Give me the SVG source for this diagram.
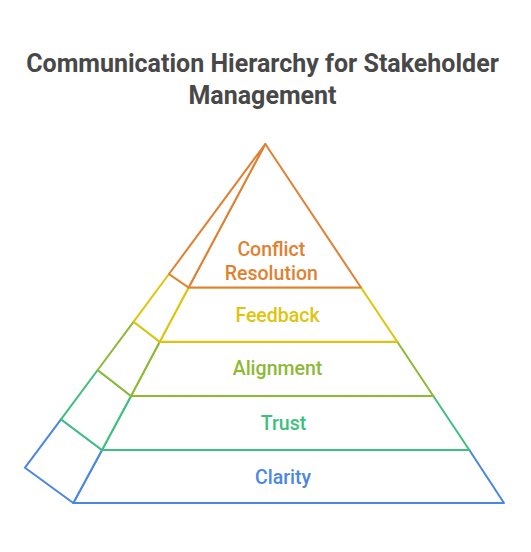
<svg xmlns="http://www.w3.org/2000/svg" width="531" height="552" viewBox="0 0 531 552">
<style>
.face{fill:#ffffff;stroke-width:2;stroke-linejoin:round}
.lbl{font-family:Roboto,"Liberation Sans",sans-serif;font-size:19.5px;font-weight:500;text-anchor:middle}
.title{font-family:Roboto,"Liberation Sans",sans-serif;font-size:25px;font-weight:bold;fill:#484848;text-anchor:middle}
</style>
<rect width="531" height="552" fill="#ffffff"/>
<g id="title">
<text class="title" x="262.5" y="72">Communication Hierarchy for Stakeholder</text>
<text class="title" x="262.5" y="103.5">Management</text>
</g>
<g id="clarity">
<polygon class="face" stroke="#4A86E4" points="102,450 469.3,450 504,503 73.3,503"/>
<polygon class="face" stroke="#4A86E4" points="61,419.3 102,450 73.3,503 25,467.7"/>
<text class="lbl" fill="#4A86E4" x="283" y="483.5">Clarity</text>
</g>
<g id="trust">
<polygon class="face" stroke="#3DBF7E" points="131,396 433.3,396 469.3,450 102,450"/>
<polygon class="face" stroke="#3DBF7E" points="97.7,370 131,396 102,450 61,419.3"/>
<text class="lbl" fill="#3DBF7E" x="283.5" y="429.5">Trust</text>
</g>
<g id="alignment">
<polygon class="face" stroke="#8DB935" points="159.7,341.7 397.3,341.7 433.3,396 131,396"/>
<polygon class="face" stroke="#8DB935" points="133.7,321.7 159.7,341.7 131,396 97.7,370"/>
<text class="lbl" fill="#8DB935" x="277.5" y="375">Alignment</text>
</g>
<g id="feedback">
<polygon class="face" stroke="#DFC40C" points="188.6,287.5 361,287.5 397.3,341.7 159.7,341.7"/>
<polygon class="face" stroke="#DFC40C" points="169,274 188.6,287.5 159.7,341.7 133.7,321.7"/>
<text class="lbl" fill="#DFC40C" x="277.5" y="321.5">Feedback</text>
</g>
<g id="conflict-resolution">
<polygon class="face" stroke="#E08132" points="265.3,144 361,287.5 188.6,287.5"/>
<polygon class="face" stroke="#E08132" points="265.3,144 188.6,287.5 169,274"/>
<text class="lbl" fill="#E08132" x="271.3" y="256">Conflict</text>
<text class="lbl" fill="#E08132" x="271.3" y="280">Resolution</text>
</g>
<g id="connectors"></g>
</svg>
